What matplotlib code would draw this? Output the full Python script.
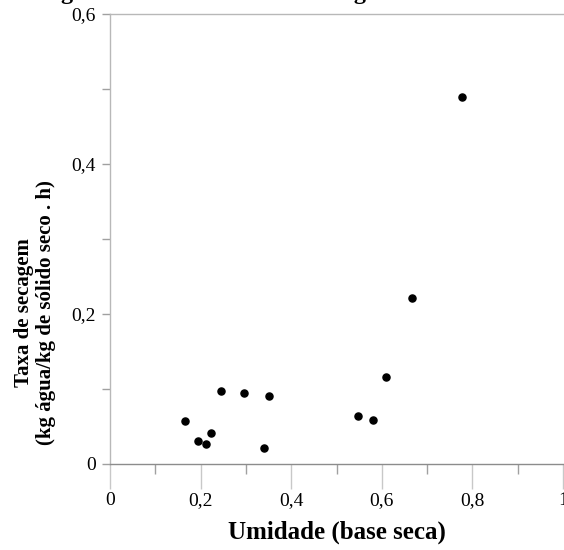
import numpy as np
import matplotlib.pyplot as plt

plt.rcParams['font.family'] = ['Liberation Serif', 'DejaVu Serif']

# moisture content (dry basis) and drying rate
umidade = [0.166, 0.195, 0.211, 0.223, 0.245, 0.295, 0.341, 0.352,
           0.548, 0.580, 0.609, 0.667, 0.778]
taxa = [0.058, 0.031, 0.027, 0.042, 0.097, 0.095, 0.021, 0.091,
        0.064, 0.059, 0.116, 0.222, 0.489]

x_ticks = [0, 0.2, 0.4, 0.6, 0.8, 1]
x_labels = ['0', '0,2', '0,4', '0,6', '0,8', '1']
y_ticks = [0, 0.2, 0.4, 0.6]
y_labels = ['0', '0,2', '0,4', '0,6']

W, H = 564, 550
fig = plt.figure(figsize=(W / 100, H / 100), dpi=100)
ax = fig.add_axes([110 / W, (H - 464) / H, 453 / W, 450 / H])

ax.scatter(umidade, taxa, s=26, color='black', zorder=5, clip_on=False)

ax.set_xlim(0, 1)
ax.set_ylim(0, 0.6)

ax.set_xticks(x_ticks)
ax.set_xticklabels(x_labels)
ax.set_xticks(np.arange(0.1, 1.0, 0.2), minor=True)
ax.set_yticks(y_ticks)
ax.set_yticklabels(y_labels)
ax.set_yticks(np.arange(0.1, 0.6, 0.2), minor=True)

ax.tick_params(axis='x', which='major', direction='out', length=18, width=1,
               color='#c8c8c8', labelsize=14, pad=2)
ax.tick_params(axis='x', which='minor', direction='out', length=7, width=1,
               color='#a0a0a0')
ax.tick_params(axis='y', which='both', direction='out', length=6, width=1,
               color='#a0a0a0', labelsize=14, pad=4)

for side in ['left', 'top']:
    ax.spines[side].set_color('#b8b8b8')
    ax.spines[side].set_linewidth(1)
ax.spines['bottom'].set_color('#8c8c8c')
ax.spines['bottom'].set_linewidth(1)
ax.spines['right'].set_visible(False)

fig.text(337 / W, (H - 532) / H, 'Umidade (base seca)', ha='center',
         va='center', fontsize=18, fontweight='bold')
fig.text(35 / W, (H - 313) / H,
         'Taxa de secagem\n(kg água/kg de sólido seco . h)', ha='center',
         va='center', rotation=90, fontsize=15, fontweight='bold',
         multialignment='center', linespacing=1.2)

# chart title sits above the top edge of the canvas
fig.text(-69 / W, 1 + 0.5 / H, 'Taxa de secagem versus umidade na secagem',
         ha='left', va='baseline', fontsize=17.5, fontweight='bold')

fig.savefig('out.png', dpi=100)
